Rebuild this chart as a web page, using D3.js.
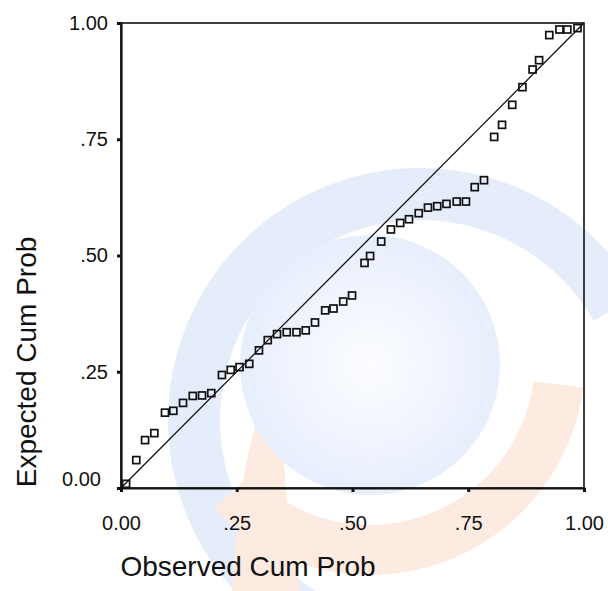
<!DOCTYPE html>
<html>
<head>
<meta charset="utf-8">
<script src="https://cdn.jsdelivr.net/npm/d3@7"></script>
<style>
  html, body { margin: 0; padding: 0; background: #fff; }
  text { font-family: "Liberation Sans", Arial, sans-serif; fill: #111; }
</style>
</head>
<body>
<div id="chart"></div>
<script>
// observed vs expected cumulative probabilities
const obsCumProb = [0.011, 0.033, 0.052, 0.072, 0.095, 0.113, 0.134, 0.155, 0.175, 0.195,
  0.218, 0.237, 0.256, 0.277, 0.298, 0.317, 0.337, 0.358, 0.379, 0.399,
  0.419, 0.441, 0.459, 0.480, 0.499, 0.526, 0.538, 0.562, 0.583, 0.603,
  0.622, 0.643, 0.663, 0.683, 0.703, 0.725, 0.745, 0.764, 0.784, 0.806,
  0.823, 0.845, 0.867, 0.889, 0.903, 0.925, 0.947, 0.964, 0.986];
const expCumProb = [0.009, 0.060, 0.103, 0.118, 0.162, 0.166, 0.183, 0.198, 0.199, 0.204,
  0.243, 0.254, 0.260, 0.267, 0.296, 0.318, 0.331, 0.335, 0.335, 0.339,
  0.356, 0.382, 0.386, 0.401, 0.414, 0.484, 0.499, 0.530, 0.556, 0.570,
  0.578, 0.591, 0.603, 0.606, 0.611, 0.616, 0.616, 0.647, 0.662, 0.755,
  0.781, 0.824, 0.862, 0.900, 0.920, 0.974, 0.986, 0.986, 0.989];

const tickValues = [0, 0.25, 0.5, 0.75, 1];
const tickLabels = ["0.00", ".25", ".50", ".75", "1.00"];

const svgWidth = 608,
    svgHeight = 591,
    margin = { top: 23, right: 24, bottom: 103, left: 121 };

const svg = d3.select("#chart")
    .append("svg")
    .attr("width", svgWidth)
    .attr("height", svgHeight);

// faint logo watermark behind the chart
const defs = svg.append("defs");
const grad = defs.append("radialGradient").attr("id", "disk");
grad.append("stop").attr("offset", "0%").attr("stop-color", "#fcfdff");
grad.append("stop").attr("offset", "100%").attr("stop-color", "#e7eefc");

const wm = svg.append("g");
wm.append("path")
    .attr("transform", "translate(420,420)")
    .attr("fill", "#e5edfb")
    .attr("d", d3.arc()({ innerRadius: 200, outerRadius: 252, startAngle: -2.75, endAngle: 1.05 }));
wm.append("path")
    .attr("transform", "translate(370,360)")
    .attr("fill", "#fdeae1")
    .attr("d", d3.arc()({ innerRadius: 165, outerRadius: 215, startAngle: 1.7, endAngle: 3.95 }));
wm.append("path")
    .attr("fill", "#fdeae1")
    .attr("d", "M232,591 Q240,420 292,338 Q272,450 300,591 Z");
wm.append("circle")
    .attr("cx", 370).attr("cy", 365).attr("r", 130)
    .attr("fill", "url(#disk)");

// scales
const x = d3.scaleLinear().domain([0, 1]).range([margin.left, svgWidth - margin.right]);
const y = d3.scaleLinear().domain([0, 1]).range([svgHeight - margin.bottom, margin.top]);

// frame
svg.append("rect")
    .attr("x", x(0)).attr("y", y(1))
    .attr("width", x(1) - x(0)).attr("height", y(0) - y(1))
    .attr("fill", "none").attr("stroke", "#111").attr("stroke-width", 1.6);

// axes
const fmt = (d, i) => tickLabels[i];

const yAxis = svg.append("g")
    .attr("transform", `translate(${x(0)},0)`)
    .call(d3.axisLeft(y).tickValues(tickValues).tickFormat(fmt).tickSize(4).tickPadding(9));

const xAxis = svg.append("g")
    .attr("transform", `translate(0,${y(0)})`)
    .call(d3.axisBottom(x).tickValues(tickValues).tickFormat(fmt).tickSize(4).tickPadding(24));

[yAxis, xAxis].forEach(ax => {
    ax.select(".domain").attr("stroke", "#111").attr("stroke-width", 2.2);
    ax.selectAll(".tick line").attr("stroke", "#111").attr("stroke-width", 3);
    ax.selectAll(".tick text").style("font-size", "20px").attr("fill", "#111");
});

// y "0.00" sits a little up and left in the original
yAxis.selectAll(".tick text").filter((d, i) => i === 0)
    .attr("dx", -7).attr("dy", "-0.15em");

// reference diagonal
svg.append("line")
    .attr("x1", x(0)).attr("y1", y(0))
    .attr("x2", x(1)).attr("y2", y(1))
    .attr("stroke", "#111").attr("stroke-width", 1.3);

// points as hollow squares
const pts = obsCumProb.map((d, i) => ({ obs: d, exp: expCumProb[i] }));
const s = 7;
svg.append("g")
    .selectAll("rect")
    .data(pts)
    .join("rect")
    .attr("x", d => x(d.obs) - s / 2)
    .attr("y", d => y(d.exp) - s / 2)
    .attr("width", s)
    .attr("height", s)
    .attr("fill", "none")
    .attr("stroke", "#111")
    .attr("stroke-width", 1.7);

// axis titles
svg.append("text")
    .attr("x", 248).attr("y", 576)
    .attr("text-anchor", "middle")
    .style("font-size", "28px")
    .text("Observed Cum Prob");

svg.append("text")
    .attr("transform", "translate(36,362) rotate(-90)")
    .attr("text-anchor", "middle")
    .style("font-size", "28px")
    .text("Expected Cum Prob");
</script>
</body>
</html>
